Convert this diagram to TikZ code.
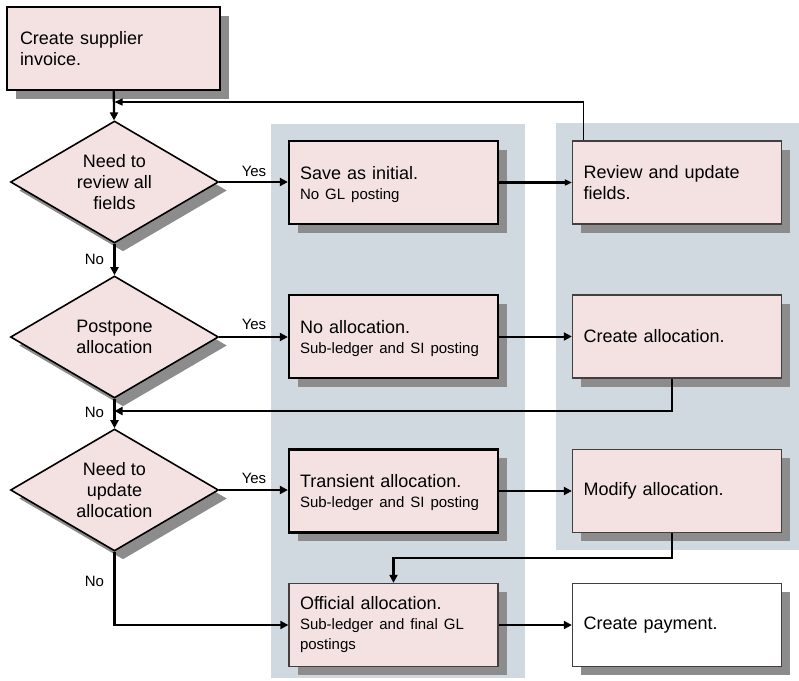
\documentclass[tikz,border=0pt]{standalone}
\usepackage{fontspec}
\setmainfont{Liberation Sans}
\usetikzlibrary{shapes.geometric,shadows,arrows.meta}

\definecolor{boxpink}{RGB}{244,226,226}
\definecolor{lanegray}{RGB}{208,216,224}
\definecolor{shadowgray}{RGB}{140,140,140}
\definecolor{thinedge}{RGB}{70,62,62}

\newcommand{\fmMain}{\fontsize{18}{21}\selectfont}
\newcommand{\fmSub}{\fontsize{15}{20}\selectfont}
% tall invisible strut on the first line, pushes a two-part label slightly down
\newcommand{\topstrut}{\rule{0pt}{17pt}}

\tikzset{
  castshadow/.style={drop shadow={shadow xshift=8.5pt, shadow yshift=-8.5pt, fill=shadowgray, opacity=1}},
  stepbox/.style={rectangle, fill=boxpink, castshadow, minimum height=83pt,
    text width=187pt, inner xsep=11pt, inner ysep=0pt, align=left, font=\fmMain},
  boldedge/.style={draw=black, line width=2.3pt},
  thinline/.style={draw=thinedge, line width=1.3pt},
  decision/.style={diamond, fill=boxpink, castshadow, draw=black, line width=1.6pt,
    minimum width=208pt, minimum height=122pt, aspect=1.7, inner sep=0pt,
    align=center, font=\fmMain},
  lane/.style={fill=lanegray, draw=none},
  flow/.style={draw=black, line width=2.3pt, -{Triangle[length=8pt,width=8pt]}},
  flowmid/.style={draw=black, line width=2pt, -{Triangle[length=8pt,width=8pt]}},
  flowthin/.style={draw=black, line width=1.2pt, -{Triangle[length=8pt,width=7pt]}},
  flowheavy/.style={draw=black, line width=3.2pt, -{Triangle[length=7pt,width=6pt]}},
  tag/.style={font=\fontsize{15}{17}\selectfont, inner sep=0pt}
}

\begin{document}
\begin{tikzpicture}[x=1pt, y=-1pt]
  \useasboundingbox (0,0) rectangle (799,680);

  % swim lanes
  \fill[lane] (271,124) rectangle (525,678);
  \fill[lane] (556,123) rectangle (799,550);

  % start box
  \node[stepbox, boldedge, text width=187pt, inner xsep=13pt] (create) at (113.5,48.5)
    {Create supplier\\invoice.};

  % decisions
  \node[decision] (d1) at (114.5,182) {Need to\\review all\\fields};
  \node[decision] (d2) at (114.5,337) {Postpone\\allocation};
  \node[decision] (d3) at (114.5,490) {Need to\\update\\allocation};

  % middle column
  \node[stepbox, boldedge] (save) at (393.5,182.5)
    {\topstrut Save as initial.\par{\fmSub No GL posting\par}};
  \node[stepbox, boldedge] (noalloc) at (393.5,336.5)
    {\topstrut No allocation.\par{\fmSub Sub-ledger and SI posting\par}};
  \node[stepbox, boldedge] (transient) at (393.5,491)
    {\topstrut Transient allocation.\par{\fmSub Sub-ledger and SI posting\par}};
  \node[stepbox, thinline] (official) at (393.5,625)
    {Official allocation.\par{\fmSub Sub-ledger and final GL\\postings\par}};

  % right column
  \node[stepbox, thinline] (review) at (677,182.5)
    {Review and update\\fields.};
  \node[stepbox, thinline] (createalloc) at (677,336.5)
    {Create allocation.};
  \node[stepbox, thinline] (modify) at (677,491)
    {Modify allocation.};
  \node[stepbox, thinline, fill=white] (payment) at (677,625)
    {Create payment.};

  % joints on the main trunk
  \coordinate (loopin) at (114.5,102);
  \coordinate (mergein) at (114.5,411);

  % main trunk
  \draw[flow] (create) -- (d1);
  \draw[flow] (d1) -- (d2);
  \draw[flow] (d2) -- (d3);
  \draw[flow] (d3.south) |- (official.west);

  % yes branches
  \draw[flow] (d1) -- (d1 -| save.west);
  \draw[flowmid] (d2) -- (d2 -| noalloc.west);
  \draw[flowmid] (d3) -- (d3 -| transient.west);

  % middle to right
  \draw[flowheavy] (save) -- (review);
  \draw[flowmid] (noalloc) -- (createalloc);
  \draw[flowmid] (transient) -- (modify);
  \draw[flowmid] (official) -- (payment);

  % returns
  \draw[flowthin] ([xshift=12pt]review.north west) |- (loopin);
  \draw[flow] ([xshift=-5pt]createalloc.south) |- (mergein);
  \draw[flow] ([xshift=-5pt]modify.south) -- ++(0,25) -| (official.north);

  % branch labels
  \node[tag] (yes1) at (254,171) {Yes};
  \node[tag] (yes2) at (254,324) {Yes};
  \node[tag] (yes3) at (254,478) {Yes};
  \node[tag] (no1) at (94.5,259) {No};
  \node[tag] (no2) at (94.5,412) {No};
  \node[tag] (no3) at (94.5,581) {No};
\end{tikzpicture}
\end{document}
